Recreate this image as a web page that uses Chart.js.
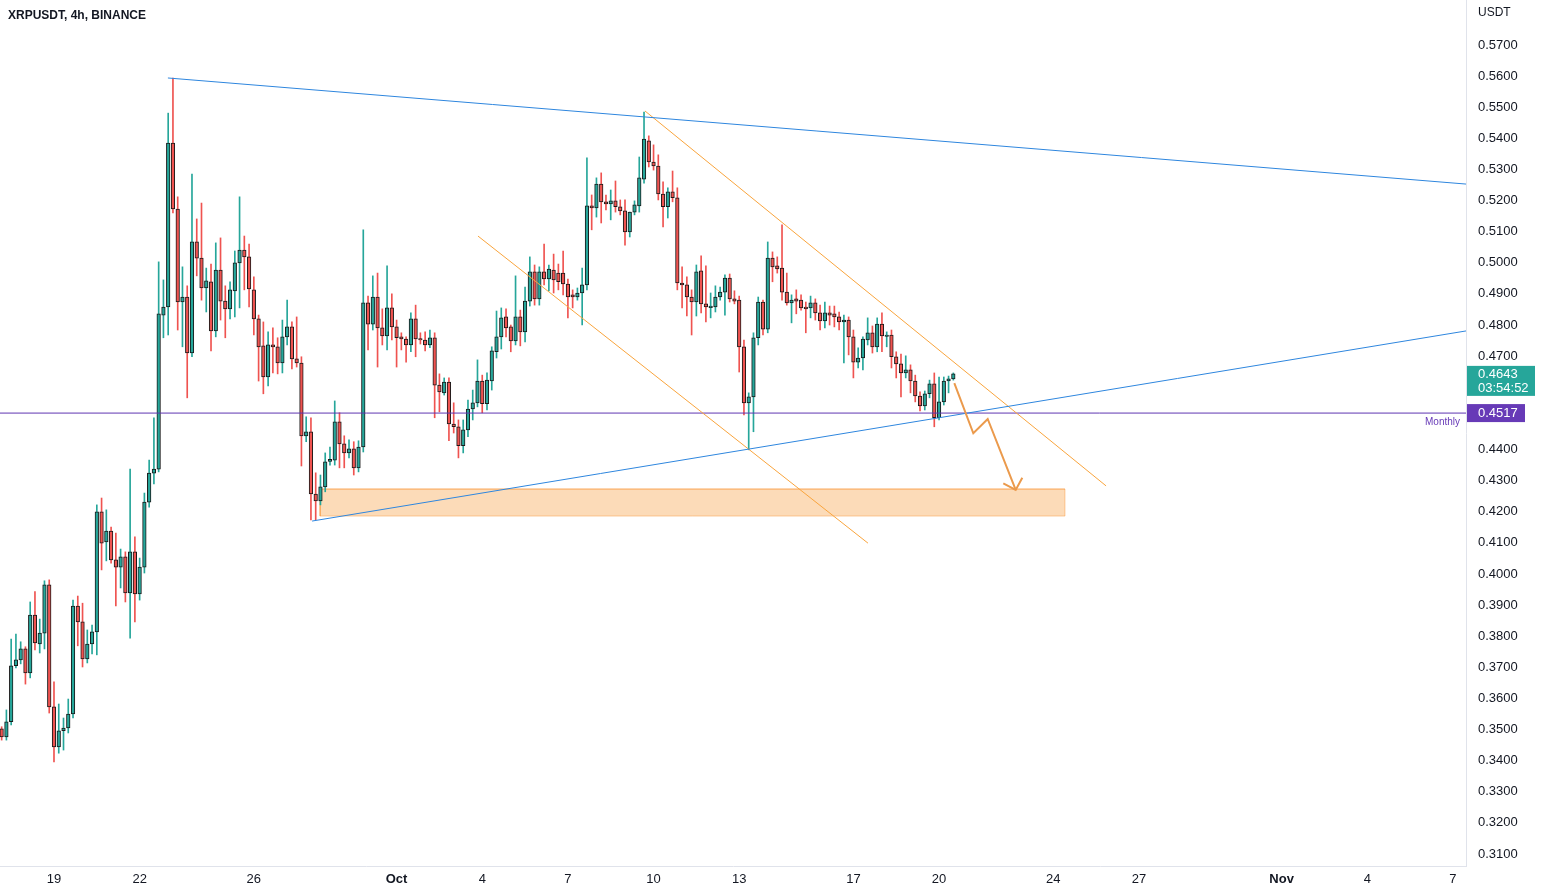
<!DOCTYPE html>
<html><head><meta charset="utf-8">
<script src="https://cdn.jsdelivr.net/npm/chart.js@4.4.1/dist/chart.umd.min.js"></script>
<style>html,body{margin:0;padding:0;background:#fff;overflow:hidden}#wrap{width:1541px;height:892px;position:relative}canvas{display:block}</style>
</head><body><div id="wrap"><canvas id="c" width="1541" height="892" style="width:1541px;height:892px"></canvas></div>
<script>
// ---- time axis (days counted from Sep 1 00:00, so Sep 19 = 18) ----
const tickDays   = [18, 21, 25, 30, 33, 36, 39, 42, 46, 49, 53, 56, 61, 64, 67];
const tickLabels = ['19','22','26','Oct','4','7','10','13','17','20','24','27','Nov','4','7'];
const monthLabels = ['Oct','Nov'];
const yTicks = [0.31,0.32,0.33,0.34,0.35,0.36,0.37,0.38,0.39,0.40,0.41,0.42,0.43,0.44,0.45,0.46,0.47,0.48,0.49,0.50,0.51,0.52,0.53,0.54,0.55,0.56,0.57];
const firstCandleDay = 16 + 4/24;   // Sep 17 04:00
const candleStep = 4/24;            // 4h candles

// ---- XRPUSDT 4h OHLC ----
const opens = [
.3502,.3476,.3525,.3705,.3724,.3759,.3682,.3868,.3775,.3810,
.3965,.3573,.3444,.3496,.3505,.3550,.3897,.3846,.3727,.3775,
.3814,.4200,.4103,.4138,.4045,.4022,.4055,.3939,.4071,.3936,
.4022,.4231,.4324,.4337,.4832,.4858,.5385,.5173,.4874,.4890,
.4710,.5067,.5015,.4919,.4939,.4781,.4977,.4877,.4852,.4910,
.5000,.5041,.5019,.4913,.4820,.4733,.4633,.4736,.4730,.4678,
.4762,.4794,.4691,.4678,.4444,.4457,.4257,.4235,.4280,.4362,
.4366,.4489,.4418,.4389,.4402,.4341,.4408,.4871,.4803,.4890,
.4791,.4765,.4855,.4794,.4762,.4755,.4736,.4820,.4755,.4752,
.4736,.4759,.4607,.4582,.4617,.4482,.4473,.4412,.4463,.4530,
.4550,.4620,.4547,.4620,.4714,.4762,.4826,.4794,.4749,.4826,
.4778,.4877,.4971,.4884,.4971,.4948,.4977,.4967,.4967,.4932,
.4897,.4890,.4903,.4929,.5183,.5176,.5253,.5196,.5189,.5199,
.5180,.5167,.5099,.5163,.5183,.5269,.5392,.5324,.5311,.5221,
.5180,.5228,.5209,.4935,.4929,.4890,.4874,.4974,.4868,.4856,
.4858,.4890,.4906,.4951,.4884,.4880,.4730,.4550,.4569,.4759,
.4874,.4787,.5015,.4990,.4983,.4906,.4871,.4884,.4880,.4858,
.4855,.4871,.4839,.4813,.4839,.4836,.4826,.4810,.4816,.4762,
.4681,.4694,.4752,.4775,.4730,.4803,.4763,.4768,.4698,.4675,
.4646,.4656,.4620,.4572,.4540,.4579,.4611,.4502,.4553,.4620,
.4627];
const highs = [
.3509,.3563,.3791,.3807,.3782,.3766,.3910,.3943,.3855,.3978,
.3981,.3653,.3582,.3537,.3598,.3916,.3929,.3906,.3820,.3836,
.4222,.4244,.4206,.4151,.4131,.4080,.4071,.4337,.4119,.4051,
.4260,.4366,.4502,.5003,.4945,.5481,.5594,.5212,.4987,.4926,
.5285,.5141,.5192,.4983,.4996,.5064,.5080,.4926,.4939,.5038,
.5212,.5086,.5060,.4955,.4832,.4810,.4778,.4791,.4759,.4816,
.4880,.4810,.4826,.4698,.4505,.4502,.4325,.4318,.4389,.4408,
.4556,.4518,.4444,.4431,.4425,.4428,.5106,.4893,.4958,.4967,
.4852,.4990,.4900,.4816,.4775,.4762,.4839,.4864,.4775,.4778,
.4784,.4775,.4643,.4630,.4630,.4550,.4495,.4495,.4559,.4591,
.4688,.4639,.4646,.4730,.4845,.4855,.4852,.4800,.4958,.4848,
.4922,.5019,.4993,.4987,.5060,.4993,.5028,.4996,.5038,.4948,
.4913,.4919,.4983,.5337,.5218,.5273,.5289,.5218,.5234,.5263,
.5202,.5202,.5163,.5199,.5340,.5484,.5408,.5379,.5347,.5260,
.5241,.5295,.5241,.4987,.4955,.4913,.4993,.5022,.4990,.4903,
.4926,.4922,.4961,.4964,.4910,.4893,.4752,.4582,.4775,.4890,
.4880,.5067,.5035,.5019,.5122,.4967,.4897,.4913,.4897,.4874,
.4893,.4884,.4864,.4874,.4861,.4861,.4842,.4832,.4826,.4784,
.4727,.4762,.4823,.4797,.4823,.4839,.4778,.4784,.4714,.4707,
.4701,.4672,.4639,.4585,.4588,.4623,.4646,.4633,.4633,.4636,
.4646];
const lows = [
.3466,.3466,.3515,.3698,.3711,.3646,.3666,.3756,.3746,.3759,
.3553,.3396,.3424,.3434,.3489,.3537,.3769,.3701,.3714,.3743,
.3740,.4013,.4042,.4035,.3897,.3955,.3910,.3794,.3846,.3916,
.4003,.4215,.4289,.4328,.4759,.4768,.5160,.4784,.4730,.4566,
.4698,.4958,.4880,.4842,.4717,.4762,.4816,.4759,.4820,.4826,
.4855,.4913,.4858,.4768,.4620,.4579,.4604,.4646,.4643,.4646,
.4736,.4659,.4665,.4347,.4425,.4174,.4174,.4222,.4264,.4350,
.4350,.4341,.4341,.4373,.4318,.4328,.4392,.4720,.4784,.4665,
.4736,.4720,.4752,.4665,.4720,.4681,.4714,.4698,.4739,.4717,
.4727,.4502,.4521,.4575,.4428,.4453,.4373,.4389,.4441,.4495,
.4537,.4518,.4527,.4591,.4694,.4723,.4762,.4714,.4736,.4733,
.4746,.4861,.4864,.4864,.4929,.4910,.4903,.4913,.4897,.4823,
.4855,.4880,.4800,.4913,.5106,.5147,.5128,.5170,.5138,.5163,
.5154,.5057,.5083,.5154,.5163,.5256,.5308,.5298,.5202,.5115,
.5144,.5196,.4913,.4855,.4829,.4768,.4829,.4839,.4810,.4823,
.4842,.4880,.4832,.4874,.4868,.4649,.4511,.4399,.4457,.4736,
.4768,.4775,.4939,.4967,.4880,.4864,.4807,.4836,.4848,.4775,
.4823,.4816,.4784,.4791,.4800,.4794,.4784,.4678,.4704,.4630,
.4662,.4656,.4736,.4710,.4714,.4714,.4730,.4662,.4630,.4569,
.4630,.4582,.4553,.4524,.4527,.4566,.4473,.4495,.4543,.4582,
.4623];
const closes = [
.3476,.3525,.3705,.3724,.3759,.3682,.3868,.3778,.3810,.3965,
.3573,.3444,.3496,.3505,.3550,.3897,.3846,.3727,.3775,.3814,
.4200,.4099,.4138,.4045,.4022,.4055,.3939,.4071,.3936,.4022,
.4231,.4324,.4337,.4836,.4858,.5385,.5173,.4874,.4890,.4710,
.5067,.5015,.4919,.4942,.4781,.4977,.4877,.4852,.4913,.5000,
.5041,.5019,.4916,.4820,.4730,.4633,.4736,.4730,.4678,.4762,
.4794,.4691,.4678,.4444,.4457,.4257,.4235,.4280,.4360,.4368,
.4489,.4418,.4389,.4402,.4341,.4408,.4871,.4803,.4890,.4791,
.4765,.4855,.4794,.4759,.4755,.4736,.4820,.4755,.4752,.4736,
.4759,.4607,.4585,.4617,.4482,.4473,.4412,.4463,.4530,.4550,
.4620,.4547,.4623,.4717,.4762,.4823,.4791,.4749,.4826,.4778,
.4877,.4971,.4884,.4971,.4948,.4980,.4945,.4939,.4932,.4890,
.4890,.4903,.4929,.5183,.5176,.5253,.5196,.5189,.5199,.5180,
.5167,.5099,.5163,.5186,.5273,.5398,.5324,.5311,.5221,.5180,
.5228,.5209,.4935,.4929,.4890,.4874,.4971,.4868,.4858,.4859,
.4890,.4906,.4951,.4884,.4877,.4730,.4550,.4569,.4759,.4874,
.4787,.5015,.4987,.4980,.4906,.4871,.4880,.4877,.4855,.4852,
.4871,.4839,.4813,.4839,.4832,.4826,.4810,.4816,.4762,.4681,
.4694,.4755,.4775,.4730,.4803,.4765,.4768,.4698,.4675,.4646,
.4656,.4620,.4572,.4540,.4579,.4611,.4502,.4553,.4620,.4627,
.4643];

// ---- drawings ----
const upperTrendX = [21.99, 67.457], upperTrendY = [0.5594, 0.5253];
const lowerTrendX = [27.04, 67.457], lowerTrendY = [0.4170, 0.4781];
const chanTopX = [38.70, 54.85], chanTopY = [0.5488, 0.4283];
const chanBotX = [32.85, 46.51], chanBotY = [0.5086, 0.4099];
const zoneX = [27.32, 53.41], zoneY = [0.4186, 0.4273];
const arrowX = [49.535, 50.200, 50.704, 51.685], arrowY = [0.4613, 0.4452, 0.4498, 0.4270];
const arrowHeadX = [51.25, 51.685, 51.916], arrowHeadY = [0.4291, 0.4270, 0.4309];
const monthlyLevel = 0.4517;
const lastPrice = 0.4643;
const countdown = '03:54:52';
const xMin = 16.109, xMax = 67.457, yMin = 0.30614, yMax = 0.58446;

const UP = '#26a69a', DOWN = '#ef5350';
const times = opens.map((_, i) => firstCandleDay + i * candleStep);
const candleColors = opens.map((o, i) => closes[i] >= o ? UP : DOWN);
const pts = (xs, ys) => xs.map((x, i) => ({x, y: ys[i]}));

Chart.defaults.font.family = "'Liberation Sans', Arial, sans-serif";

const lineDs = (data, color, width, order, extra) => Object.assign({
  type: 'line', data, borderColor: color, borderWidth: width, pointRadius: 0,
  fill: false, tension: 0, order
}, extra || {});

const overlay = {
  id: 'overlay',
  afterDraw(chart) {
    const ctx = chart.ctx, ys = chart.scales.y;
    ctx.save();
    ctx.fillStyle = '#131722';
    ctx.font = "bold 12px 'Liberation Sans', Arial, sans-serif";
    ctx.textBaseline = 'middle'; ctx.textAlign = 'left';
    ctx.fillText('XRPUSDT, 4h, BINANCE', 8, 16);
    ctx.font = "12px 'Liberation Sans', Arial, sans-serif";
    ctx.fillText('USDT', 1478, 13);
    // last price label
    const p1 = ys.getPixelForValue(lastPrice);
    ctx.fillStyle = UP;
    ctx.fillRect(1467, p1 - 8, 68, 30);
    ctx.fillStyle = '#ffffff';
    ctx.font = "13px 'Liberation Sans', Arial, sans-serif";
    ctx.fillText(lastPrice.toFixed(4), 1478, p1 + 0.5);
    ctx.fillText(countdown, 1478, p1 + 14.5);
    // monthly level label
    const p2 = ys.getPixelForValue(monthlyLevel);
    ctx.fillStyle = '#673ab7';
    ctx.fillRect(1467, p2 - 9, 58, 18);
    ctx.fillStyle = '#ffffff';
    ctx.fillText(monthlyLevel.toFixed(4), 1478, p2 + 0.5);
    ctx.fillStyle = '#673ab7';
    ctx.font = "10px 'Liberation Sans', Arial, sans-serif";
    ctx.textAlign = 'right';
    ctx.fillText('Monthly', 1460, p2 + 9);
    ctx.restore();
  }
};

new Chart(document.getElementById('c'), {
  type: 'bar',
  data: {
    datasets: [
      lineDs(pts(zoneX, [zoneY[1], zoneY[1]]), 'rgba(245,124,0,0.35)', 1, 6,
        {fill: {value: zoneY[0]}, backgroundColor: 'rgba(245,124,0,0.28)'}),
      lineDs(pts([zoneX[0], zoneX[1], zoneX[1], zoneX[0], zoneX[0]], [zoneY[0], zoneY[0], zoneY[1], zoneY[1], zoneY[0]]), 'rgba(245,124,0,0.35)', 1, 5),
      {
        type: 'bar', data: times.map((t, i) => ({x: t, y: [lows[i], highs[i]]})),
        backgroundColor: candleColors, barThickness: 1, grouped: false, order: 4
      },
      {
        type: 'bar', data: times.map((t, i) => ({x: t, y: [opens[i], closes[i]]})),
        backgroundColor: candleColors, borderColor: '#1a1a1a', borderWidth: 1, borderSkipped: false,
        barThickness: 3.6, minBarLength: 1.5, grouped: false, order: 3
      },
      lineDs(pts([xMin, xMax], [monthlyLevel, monthlyLevel]), '#5e35b1', 1, 2),
      lineDs(pts(upperTrendX, upperTrendY), '#2e86de', 1, 1),
      lineDs(pts(lowerTrendX, lowerTrendY), '#2e86de', 1, 1),
      lineDs(pts(chanTopX, chanTopY), '#f9a43c', 1, 1),
      lineDs(pts(chanBotX, chanBotY), '#f9a43c', 1, 1),
      lineDs(pts(arrowX, arrowY), '#eb9a4c', 2, 0),
      lineDs(pts(arrowHeadX, arrowHeadY), '#eb9a4c', 2, 0)
    ]
  },
  options: {
    responsive: false, animation: false, events: [],
    layout: {padding: 0},
    plugins: {legend: {display: false}, tooltip: {enabled: false}, title: {display: false}},
    scales: {
      x: {
        type: 'linear', min: xMin, max: xMax, offset: false, position: 'bottom',
        grid: {display: false, drawTicks: false},
        border: {display: true, color: '#e0e3eb'},
        afterBuildTicks: s => { s.ticks = tickDays.map(v => ({value: v})); },
        afterFit: s => { s.height = 26; s.paddingLeft = 0; s.paddingRight = 0; },
        ticks: {
          autoSkip: false, maxRotation: 0, padding: 6, color: '#131722',
          font: c => ({size: 13, weight: monthLabels.includes(tickLabels[c.index]) ? 'bold' : 'normal'}),
          callback: (v, i) => tickLabels[i]
        }
      },
      y: {
        type: 'linear', position: 'right', min: yMin, max: yMax,
        grid: {display: false, drawTicks: false},
        border: {display: true, color: '#e0e3eb'},
        afterBuildTicks: s => { s.ticks = yTicks.map(v => ({value: v})); },
        afterFit: s => { s.width = 75; s.paddingTop = 0; s.paddingBottom = 0; },
        ticks: {padding: 12, color: '#131722', font: {size: 13}, callback: v => v.toFixed(4)}
      }
    }
  },
  plugins: [overlay]
});
</script></body></html>
